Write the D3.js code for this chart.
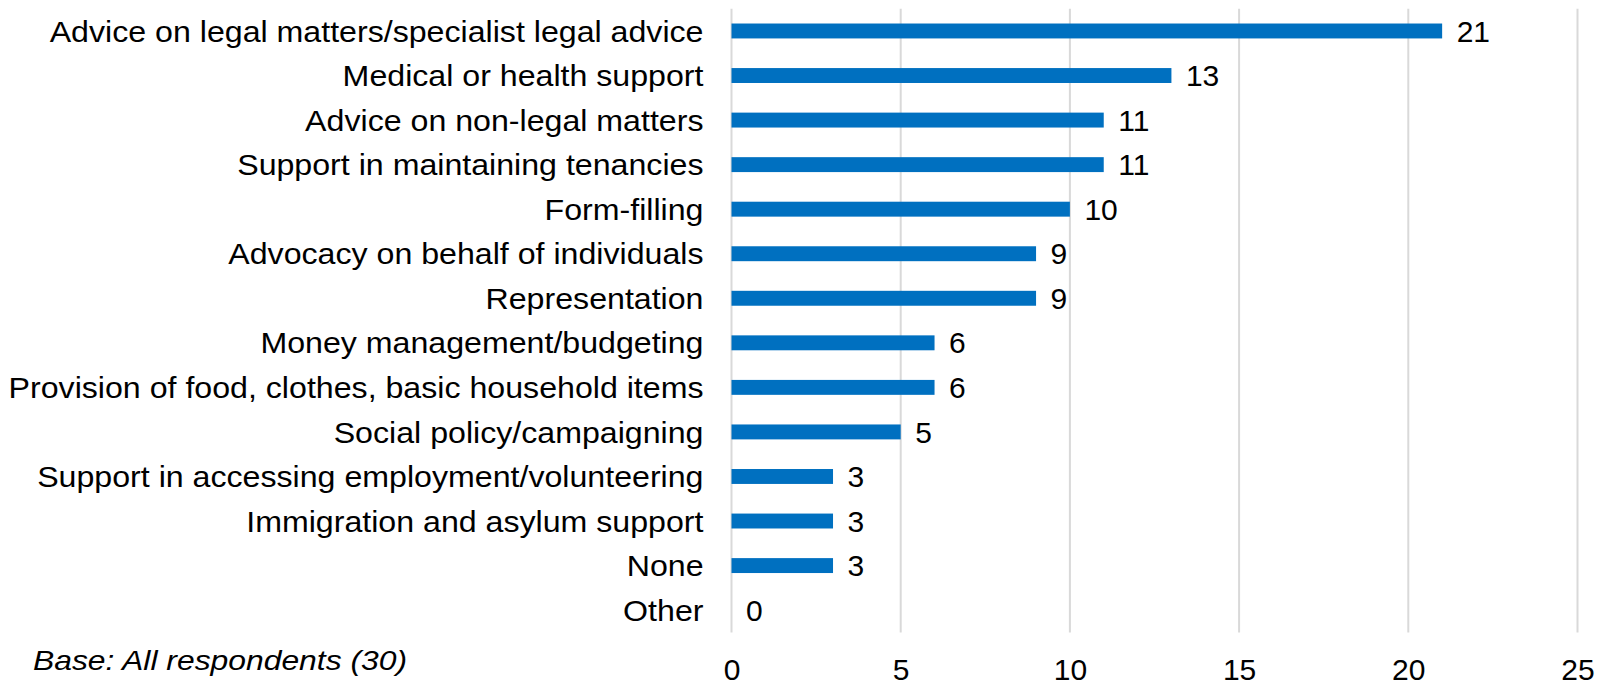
<!DOCTYPE html>
<html>
<head>
<meta charset="utf-8">
<script src="https://cdn.jsdelivr.net/npm/d3@7"></script>
<style>
  html, body { margin: 0; padding: 0; background: #ffffff; }
  svg { display: block; }
  text { font-family: "Liberation Sans", Arial, sans-serif; fill: #000; }
</style>
</head>
<body>
<svg id="chart" width="1598" height="686"></svg>
<script>
// Services offered, number of respondents
const categories = [
  "Advice on legal matters/specialist legal advice",
  "Medical or health support",
  "Advice on non-legal matters",
  "Support in maintaining tenancies",
  "Form-filling",
  "Advocacy on behalf of individuals",
  "Representation",
  "Money management/budgeting",
  "Provision of food, clothes, basic household items",
  "Social policy/campaigning",
  "Support in accessing employment/volunteering",
  "Immigration and asylum support",
  "None",
  "Other"
];
const counts = [21, 13, 11, 11, 10, 9, 9, 6, 6, 5, 3, 3, 3, 0];
const xTicks = [0, 5, 10, 15, 20, 25];
const baseNote = "Base: All respondents (30)";

const svg = d3.select("#chart");
const plotLeft = 731.5, plotRight = 1577.5, plotTop = 8.7, plotBottom = 632.4;
const labelSize = 30, labelStretch = 1.072;

const x = d3.scaleLinear().domain([0, 25]).range([plotLeft, plotRight]);
const y = d3.scaleBand().domain(categories).range([plotTop, plotBottom]).paddingInner(0.665).paddingOuter(0.3325);

// vertical gridlines
svg.append("g")
  .selectAll("line")
  .data(xTicks)
  .join("line")
  .attr("x1", d => x(d)).attr("x2", d => x(d))
  .attr("y1", plotTop).attr("y2", plotBottom)
  .attr("stroke", "#d9d9d9")
  .attr("stroke-width", 2);

// bars
svg.append("g")
  .selectAll("rect")
  .data(counts)
  .join("rect")
  .attr("x", x(0))
  .attr("y", (d, i) => y(categories[i]))
  .attr("width", d => x(d) - x(0))
  .attr("height", y.bandwidth())
  .attr("fill", "#0070c0");

// value labels
svg.append("g")
  .selectAll("text")
  .data(counts)
  .join("text")
  .attr("x", d => x(d) + 14.5)
  .attr("y", (d, i) => y(categories[i]) + y.bandwidth() / 2)
  .attr("dy", "0.355em")
  .style("font-size", labelSize + "px")
  .text(d => d);

// category axis
const yAxis = svg.append("g")
  .attr("transform", `translate(${plotLeft},0)`)
  .call(d3.axisLeft(y).tickSize(0).tickPadding(0));
yAxis.select(".domain").remove();
yAxis.selectAll(".tick text")
  .attr("x", 0)
  .attr("dy", "0.355em")
  .attr("transform", `translate(-28,0) scale(${labelStretch},1)`)
  .style("font-size", labelSize + "px")
  .style("font-family", "'Liberation Sans', Arial, sans-serif")
  .attr("fill", "#000");

// value axis
const xAxis = svg.append("g")
  .attr("transform", `translate(0,${plotBottom})`)
  .call(d3.axisBottom(x).tickValues(xTicks).tickSize(0).tickPadding(0));
xAxis.select(".domain").remove();
xAxis.selectAll(".tick text")
  .attr("y", 47.5)
  .attr("dy", 0)
  .style("font-size", labelSize + "px")
  .style("font-family", "'Liberation Sans', Arial, sans-serif")
  .attr("fill", "#000");

// base note
svg.append("text")
  .attr("transform", `translate(33,670) scale(1.18,1)`)
  .style("font-size", "27px")
  .style("font-style", "italic")
  .text(baseNote);
</script>
</body>
</html>
